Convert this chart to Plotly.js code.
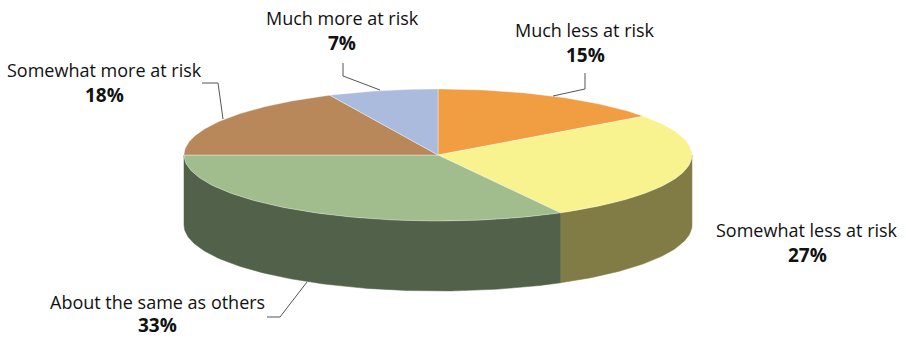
<!DOCTYPE html>
<html><head><meta charset="utf-8">
<script src="https://cdn.plot.ly/plotly-3.0.1.min.js"></script>
<style>html,body{margin:0;padding:0;background:#fff}</style>
</head><body><div id="chart" style="width:906px;height:338px"></div>
<script>
// ---- data ----
const categories = ["Much less at risk", "Somewhat less at risk", "About the same as others", "Somewhat more at risk", "Much more at risk"];
const values = [15, 27, 33, 18, 7];
// ---- styles ----
const topColors = ["#F09E41", "#F8F38F", "#A1BD8E", "#B8885A", "#ABBBDE"];
const sideColors = ["#A86E2D", "#817C46", "#52624A", "#80603F", "#77839B"];
// ---- label layout (pixel positions) ----
const labelPos = [[585, 30], [807, 230], [157, 302], [104, 70], [342, 18]];
const pctOffset = [25, 25, 23, 25, 25];
const leaderPaths = [
  [[585, 73], [585, 89], [553, 96]],
  [],
  [[267, 317], [280, 317], [307, 282]],
  [[202, 83], [218, 83], [223, 119]],
  [[343, 63], [343, 76], [380, 90]]
];

const cx = 438, cy = 155, rx = 254, ry = 66, depth = 70;
function pt(deg, dy) {
  const r = deg * Math.PI / 180;
  return [cx + rx * Math.sin(r), cy - ry * Math.cos(r) + (dy || 0)];
}
function arc(a0, a1, dy) {
  const pts = [];
  const n = Math.max(2, Math.ceil(Math.abs(a1 - a0)));
  for (let i = 0; i <= n; i++) pts.push(pt(a0 + (a1 - a0) * i / n, dy));
  return pts;
}

const total = values.reduce((a, b) => a + b, 0);
const traces = [];
const tops = [];
let cum = 0;
values.forEach((v, i) => {
  const a0 = cum / total * 360, a1 = (cum + v) / total * 360;
  cum += v;
  // side face (front half only: 90..270 deg)
  const s0 = Math.max(a0, 90), s1 = Math.min(a1, 270);
  if (s1 > s0) {
    const p = arc(s0, s1, 0).concat(arc(s1, s0, depth));
    p.push(p[0]);
    traces.push({type: 'scatter', mode: 'lines', x: p.map(q => q[0]), y: p.map(q => q[1]),
      fill: 'toself', fillcolor: sideColors[i], line: {color: sideColors[i], width: 0.5},
      hoverinfo: 'skip', name: categories[i]});
  }
  const t = [[cx, cy]].concat(arc(a0, a1, 0));
  t.push([cx, cy]);
  tops.push({type: 'scatter', mode: 'lines', x: t.map(q => q[0]), y: t.map(q => q[1]),
    fill: 'toself', fillcolor: topColors[i], line: {color: 'rgba(255,255,255,0.6)', width: 0.6},
    hoverinfo: 'skip', name: categories[i]});
});

const annotations = [];
categories.forEach((c, i) => {
  const [x, y] = labelPos[i];
  annotations.push({x: x, y: y, xref: 'x', yref: 'y', text: c, showarrow: false,
    xanchor: 'center', yanchor: 'middle', font: {family: 'Open Sans, sans-serif', size: 18, color: '#111111'}});
  annotations.push({x: x, y: y + pctOffset[i], xref: 'x', yref: 'y', text: '<b>' + values[i] + '%</b>', showarrow: false,
    xanchor: 'center', yanchor: 'middle', borderpad: 0, font: {family: 'Open Sans, sans-serif', size: 19, color: '#111111'}});
});
const shapes = leaderPaths.filter(p => p.length).map(p => ({
  type: 'path', xref: 'x', yref: 'y',
  path: p.map((q, k) => (k ? 'L' : 'M') + q[0] + ',' + q[1]).join(' '),
  line: {color: '#555555', width: 1}
}));

Plotly.newPlot('chart', traces.concat(tops), {
  width: 906, height: 338, margin: {l: 0, r: 0, t: 0, b: 0},
  paper_bgcolor: '#ffffff', plot_bgcolor: '#ffffff', showlegend: false,
  xaxis: {range: [0, 906], visible: false, fixedrange: true},
  yaxis: {range: [338, 0], visible: false, fixedrange: true},
  annotations: annotations, shapes: shapes, hovermode: false
}, {staticPlot: true});
</script></body></html>
